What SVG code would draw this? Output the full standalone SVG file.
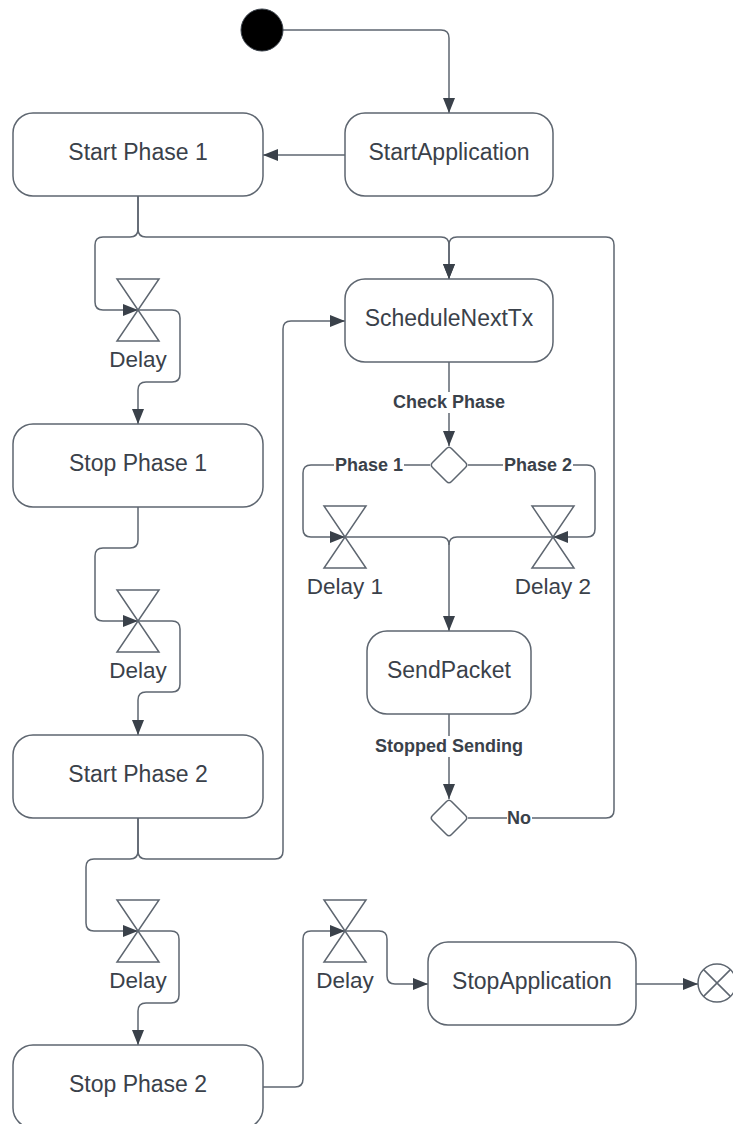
<svg xmlns="http://www.w3.org/2000/svg" width="733" height="1124" viewBox="0 0 733 1124">
<style>
.node{fill:#ffffff;stroke:#5e6670;stroke-width:1.5}
.t{font-family:"Liberation Sans",Arial,sans-serif;font-size:23px;fill:#3a414a;text-anchor:middle}
.d{font-family:"Liberation Sans",Arial,sans-serif;font-size:22.5px;fill:#3a414a;text-anchor:middle}
.lbl{font-family:"Liberation Sans",Arial,sans-serif;font-size:18px;font-weight:bold;fill:#3a414a;text-anchor:middle;dominant-baseline:central}
.c{fill:none;stroke:#5e6670;stroke-width:1.5}
.hg{fill:none;stroke:#5e6670;stroke-width:1.5}
.bg{fill:#ffffff}
</style>
<defs>
<marker id="arr" markerWidth="15" markerHeight="12" refX="15" refY="6" orient="auto" markerUnits="userSpaceOnUse"><path d="M0,0 L15,6 L0,12 z" fill="#3a414a"/></marker>
</defs>
<rect width="733" height="1124" fill="#ffffff"/>
<g id="connectors">
<path class="c" d="M283,30 H441 Q449,30 449,38 V113" marker-end="url(#arr)"/>
<path class="c" d="M345,155 H263" marker-end="url(#arr)"/>
<path class="c" d="M138,196 V229 Q138,237 130,237 H103 Q95,237 95,245 V302 Q95,310 103,310 H138" marker-end="url(#arr)"/>
<path class="c" d="M138,196 V229 Q138,237 146,237 H441 Q449,237 449,245 V279" marker-end="url(#arr)"/>
<path class="c" d="M138,310 H172 Q180,310 180,318 V374 Q180,382 172,382 H146 Q138,382 138,390 V424" marker-end="url(#arr)"/>
<path class="c" d="M138,507 V540 Q138,548 130,548 H103 Q95,548 95,556 V613 Q95,621 103,621 H138" marker-end="url(#arr)"/>
<path class="c" d="M138,621 H172 Q180,621 180,629 V684 Q180,692 172,692 H146 Q138,692 138,700 V735" marker-end="url(#arr)"/>
<path class="c" d="M138,818 V851 Q138,859 130,859 H94 Q86,859 86,867 V923 Q86,931 94,931 H138" marker-end="url(#arr)"/>
<path class="c" d="M138,818 V851 Q138,859 146,859 H275 Q283,859 283,851 V329 Q283,321 291,321 H345" marker-end="url(#arr)"/>
<path class="c" d="M138,931 H171 Q179,931 179,939 V995 Q179,1003 171,1003 H146 Q138,1003 138,1011 V1045" marker-end="url(#arr)"/>
<path class="c" d="M263,1087 H295 Q303,1087 303,1079 V939 Q303,931 311,931 H345" marker-end="url(#arr)"/>
<path class="c" d="M345,931 H379 Q387,931 387,939 V976 Q387,984 395,984 H428" marker-end="url(#arr)"/>
<path class="c" d="M636,984 H698" marker-end="url(#arr)"/>
<path class="c" d="M449,362 V446" marker-end="url(#arr)"/>
<path class="c" d="M430,465 H311 Q303,465 303,473 V529 Q303,537 311,537 H345" marker-end="url(#arr)"/>
<path class="c" d="M468,465 H587 Q595,465 595,473 V529 Q595,537 587,537 H553" marker-end="url(#arr)"/>
<path class="c" d="M345,537 H441 Q449,537 449,545 V631" marker-end="url(#arr)"/>
<path class="c" d="M553,537 H457 Q449,537 449,545"/>
<path class="c" d="M449,714 V799" marker-end="url(#arr)"/>
<path class="c" d="M468,818 H606 Q614,818 614,810 V245 Q614,237 606,237 H457 Q449,237 449,245 V279" marker-end="url(#arr)"/>
<rect class="bg" x="390" y="392" width="118" height="21"/>
<text class="lbl" x="449" y="402">Check Phase</text>
<rect class="bg" x="334" y="455" width="70" height="21"/>
<text class="lbl" x="369" y="465">Phase 1</text>
<rect class="bg" x="503" y="455" width="70" height="21"/>
<text class="lbl" x="538" y="465">Phase 2</text>
<rect class="bg" x="373" y="736" width="152" height="21"/>
<text class="lbl" x="449" y="746">Stopped Sending</text>
<rect class="bg" x="507" y="808" width="25" height="21"/>
<text class="lbl" x="519" y="818">No</text>
</g>
<g id="start"><circle cx="262" cy="30" r="21" fill="#000000" stroke="#3a414a" stroke-width="1"/></g>
<g id="startApplication"><rect class="node" x="345" y="113" width="208" height="83" rx="20"/><text class="t" x="449" y="159.5">StartApplication</text></g>
<g id="startPhase1"><rect class="node" x="13" y="113" width="250" height="83" rx="20"/><text class="t" x="138" y="159.5">Start Phase 1</text></g>
<g id="stopPhase1"><rect class="node" x="13" y="424" width="250" height="83" rx="20"/><text class="t" x="138" y="470.5">Stop Phase 1</text></g>
<g id="startPhase2"><rect class="node" x="13" y="735" width="250" height="83" rx="20"/><text class="t" x="138" y="781.5">Start Phase 2</text></g>
<g id="stopPhase2"><rect class="node" x="13" y="1045" width="250" height="83" rx="20"/><text class="t" x="138" y="1091.5">Stop Phase 2</text></g>
<g id="scheduleNextTx"><rect class="node" x="345" y="279" width="208" height="83" rx="20"/><text class="t" x="449" y="325.5">ScheduleNextTx</text></g>
<g id="sendPacket"><rect class="node" x="367" y="631" width="164" height="83" rx="20"/><text class="t" x="449" y="677.5">SendPacket</text></g>
<g id="stopApplication"><rect class="node" x="428" y="942" width="208" height="83" rx="20"/><text class="t" x="532" y="988.5">StopApplication</text></g>
<g id="delayA"><path class="hg" d="M117,279 H159 L117,341 H159 Z"/><text class="d" x="138" y="366.5">Delay</text></g>
<g id="delayB"><path class="hg" d="M117,590 H159 L117,652 H159 Z"/><text class="d" x="138" y="677.5">Delay</text></g>
<g id="delayC"><path class="hg" d="M117,900 H159 L117,962 H159 Z"/><text class="d" x="138" y="987.5">Delay</text></g>
<g id="delay1"><path class="hg" d="M324,506 H366 L324,568 H366 Z"/><text class="d" x="345" y="594">Delay 1</text></g>
<g id="delay2"><path class="hg" d="M532,506 H574 L532,568 H574 Z"/><text class="d" x="553" y="594">Delay 2</text></g>
<g id="delayD"><path class="hg" d="M324,900 H366 L324,962 H366 Z"/><text class="d" x="345" y="987.5">Delay</text></g>
<g id="checkPhase"><path class="node" d="M446.5,448.5 Q449,446 451.5,448.5 L465.5,462.5 Q468,465 465.5,467.5 L451.5,481.5 Q449,484 446.5,481.5 L432.5,467.5 Q430,465 432.5,462.5 Z"/></g>
<g id="stoppedSending"><path class="node" d="M446.5,801.5 Q449,799 451.5,801.5 L465.5,815.5 Q468,818 465.5,820.5 L451.5,834.5 Q449,837 446.5,834.5 L432.5,820.5 Q430,818 432.5,815.5 Z"/></g>
<g id="final"><circle class="node" cx="717" cy="983" r="19"/><path class="c" d="M703.6,969.6 L730.4,996.4 M703.6,996.4 L730.4,969.6"/></g>
</svg>
